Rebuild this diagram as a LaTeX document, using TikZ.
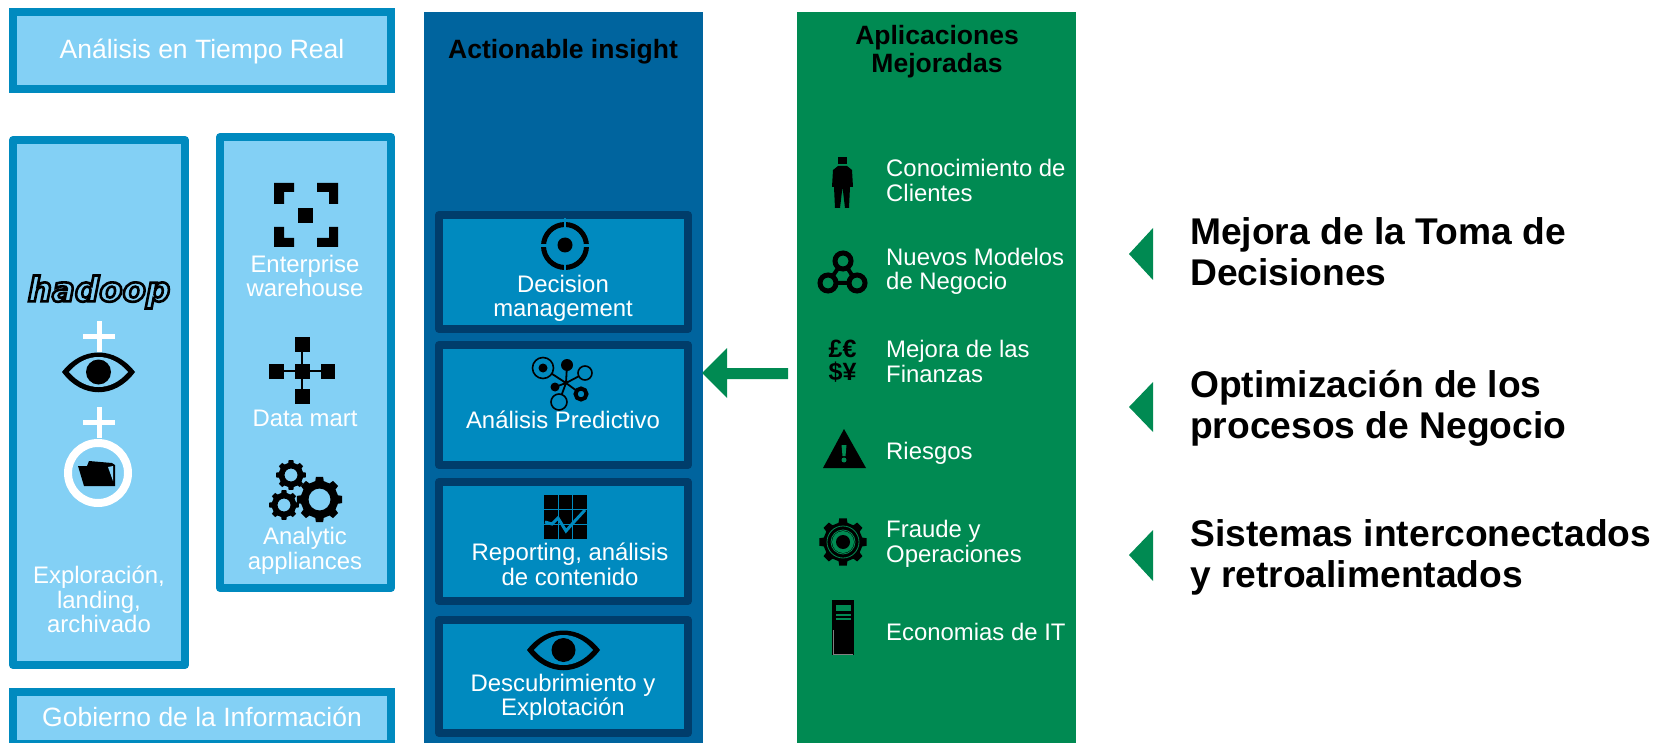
\documentclass[tikz,border=0pt]{standalone}
\usepackage{fontspec}
\setmainfont{Liberation Sans}
\newfontfamily\logofont{DejaVu Sans}
\usetikzlibrary{calc}
\definecolor{lightb}{HTML}{83D0F5}
\definecolor{midb}{HTML}{008ABF}
\definecolor{colb}{HTML}{00649E}
\definecolor{deepb}{HTML}{003D6B}
\definecolor{grn}{HTML}{008A52}
\newcommand{\fs}[2]{\fontsize{#1}{#2}\selectfont}
\tikzset{
 lbox/.style={draw=midb,fill=lightb,line width=8pt,line join=round},
 sbox/.style={draw=midb,fill=lightb,line width=8pt},
 ibox/.style={draw=deepb,fill=midb,line width=8pt,line join=round},
 wt/.style={text=white,align=center,font=\fs{23.9}{24.6},inner sep=0pt},
 wbig/.style={text=white,align=center,font=\fs{26.5}{27},inner sep=0pt},
 wl/.style={text=white,align=left,anchor=west,font=\fs{23.9}{24.4},inner sep=0pt},
 ttl/.style={text=black,align=center,font=\fs{26.5}{28.5}\bfseries,inner sep=0pt},
 big/.style={text=black,align=left,anchor=base west,font=\fs{37.2}{41}\bfseries,inner sep=0pt},
 tri/.style={fill=grn,draw=none},
 ico/.style={fill=black,draw=none},
 plusm/.style={draw=white,line width=5pt},
}
\newcommand{\gear}[4]{% cx,cy,router,rhole
 \fill[black,even odd rule] ([shift={(#1,#2)}]-13:#3*0.82)
  \foreach \a in {0,45,...,315}{
   -- ([shift={(#1,#2)}]\a-13:#3*0.82) -- ([shift={(#1,#2)}]\a-9:#3) -- ([shift={(#1,#2)}]\a+9:#3) -- ([shift={(#1,#2)}]\a+13:#3*0.82)
  } -- cycle (#1,#2) circle (#4);
}
\begin{document}
\begin{tikzpicture}[x=1pt,y=-1pt]
\useasboundingbox (0,0) rectangle (1662,743);
\clip (0,0) rectangle (1662,743);
% left column boxes
\draw[sbox] (13,12) rectangle (391,89);
\node[wbig] (rt) at (202,51) {Análisis en Tiempo Real};
\draw[lbox] (13,140) rectangle (185,665);
\draw[lbox] (220,137) rectangle (391,588);
\draw[sbox] (13,692) rectangle (391,744);
\node[wbig] (gi) at (202,717) {Gobierno de la Información};
% hadoop
\node[inner sep=0pt,text=lightb] (hd) at (99,292) {\special{pdf:code 2 Tr 2.6 w 0 0 0 RG}\logofont\fs{34}{34}\bfseries\itshape hadoop\special{pdf:code 0 Tr}};
% plus signs
\draw[plusm] (83,336) -- (115,336) (99,321) -- (99,352);
\draw[plusm] (83,422) -- (115,422) (99,407) -- (99,438);
% eye
\fill[black] (62,372) .. controls (82,346) and (115,346) .. (135,372) .. controls (115,399) and (82,399) .. cycle;
\fill[lightb] (69,372) .. controls (86,352) and (111,352) .. (128,372) .. controls (111,392) and (86,392) .. cycle;
\fill[black] (98.5,372) circle (12.5);
% folder in ring
\draw[white,line width=8pt] (98,473) circle (30);
\fill[black] (78,466) -- (87,466) -- (89,461) -- (112,463) -- (115,465) -- (115,486) -- (84,486) -- cycle;
\fill[lightb] (108,467) -- (113,466) -- (113,481) -- cycle;
\node[wt] (ex) at (99,599.5) {Exploración,\\landing,\\archivado};
% enterprise icon
\fill[ico] (274,183) -- (294,183) -- (294,192) -- (284,192) -- (284,204) -- (274,204) -- cycle;
\fill[ico] (338,183) -- (317,183) -- (317,192) -- (329,192) -- (329,204) -- (338,204) -- cycle;
\fill[ico] (274,247) -- (294,247) -- (294,238) -- (284,238) -- (284,227) -- (274,227) -- cycle;
\fill[ico] (338,247) -- (317,247) -- (317,238) -- (329,238) -- (329,227) -- (338,227) -- cycle;
\fill[ico] (298,208) rectangle (313,223);
\node[wt] (ew) at (305,276) {Enterprise\\warehouse};
% data mart icon
\draw[black,line width=2pt] (269,371) -- (335,371) (302,337) -- (302,404);
\fill[ico] (294.5,337) rectangle (309.5,352);
\fill[ico] (294.5,363.5) rectangle (309.5,378.5);
\fill[ico] (294.5,389) rectangle (309.5,404);
\fill[ico] (269,363.5) rectangle (284,378.5);
\fill[ico] (321,363.5) rectangle (335,378.5);
\node[wt] (dm) at (305,418) {Data mart};
% gears
\gear{291}{475}{15}{6.5}
\gear{284}{505}{15}{6.5}
\gear{319.5}{499.5}{23}{11}
\node[wt] (aa) at (305,551) {Analytic\\appliances};
% blue column
\fill[colb] (424,12) rectangle (703,743);
\node[ttl] (ai) at (563,52) {Actionable insight};
\draw[ibox] (439,215) rectangle (688,329);
\draw[ibox] (439,345) rectangle (688,465);
\draw[ibox] (439,482) rectangle (688,601);
\draw[ibox] (439,620) rectangle (688,733);
% target
\draw[black,line width=5pt] (565,246) circle (21.5);
\fill[midb] (563.7,218) rectangle (566.3,274);
\fill[midb] (537,244.5) rectangle (593,247.5);
\fill[black] (565,245) circle (7.5);
\node[wt] (de) at (563,298.5) {Decision\\management};
% predictive icon
\draw[black,line width=1.8pt] (566,383) -- (543,368) (566,383) -- (567,365) (566,383) -- (585,373) (566,383) -- (555,387) (566,383) -- (581,394) (566,383) -- (559,402);
\draw[black,line width=1.6pt,fill=midb] (543,368) circle (10.5);
\fill[black] (543,368) circle (4.5);
\fill[black] (567,365) circle (6);
\draw[black,line width=1.6pt,fill=midb] (585,373) circle (7);
\fill[black] (555,387) circle (4.5);
\draw[black,line width=4pt,fill=midb] (581,394) circle (5.5);
\draw[black,line width=1.6pt,fill=midb] (559,402) circle (8);
\node[wt] (ap) at (563,420) {Análisis Predictivo};
% report icon
\fill[ico] (544,495) rectangle (587,539);
\draw[midb,line width=1pt] (558,495) -- (558,539) (572.5,495) -- (572.5,539) (544,509.5) -- (587,509.5) (544,524.5) -- (587,524.5);
\draw[midb,line width=3pt] (545,522) -- (552,524) -- (558,518) -- (566,531) -- (573,523) -- (585,510);
\node[wt] (rc) at (570,564.5) {Reporting, análisis\\de contenido};
% eye 2
\fill[black] (527,650) .. controls (547,624) and (580,624) .. (600,650) .. controls (580,677) and (547,677) .. cycle;
\fill[midb] (534,650) .. controls (551,630) and (576,630) .. (593,650) .. controls (576,670) and (551,670) .. cycle;
\fill[black] (563.5,650) circle (12);
\node[wt] (dx) at (563,697.5) {Descubrimiento y\\Explotación};
% arrow
\fill[grn] (702,373) -- (727,348) -- (727,368) -- (788,368) -- (788,379) -- (727,379) -- (727,398) -- cycle;
% green column
\fill[grn] (797,12) rectangle (1076,743);
\node[ttl] (am) at (937,51.5) {Aplicaciones\\Mejoradas};
% person
\fill[ico] (838,157) rectangle (847,164);
\fill[ico] (838,166) -- (847,166) -- (852,170) -- (853,187) -- (850,187) -- (849,208) -- (845,208) -- (842.5,187) -- (840,208) -- (835,208) -- (834,187) -- (832,187) -- (833,170) -- cycle;
\node[wl] (cc) at (886,180.5) {Conocimiento de\\Clientes};
% trio
\draw[black,line width=4pt] (843,261) -- (828,283) -- (857,283) -- cycle;
\draw[black,line width=5pt,fill=grn] (843,261) circle (8) (828,283) circle (8) (857,283) circle (8);
\node[wl] (nm) at (886,271.5) {Nuevos Modelos\\de Negocio};
% currency
\node[inner sep=0pt,align=center,text=black,font=\fs{25}{23}\bfseries] (cu) at (842.5,361.5) {£€\\\$¥};
\node[wl] (mf) at (886,361.5) {Mejora de las\\Finanzas};
% warning
\fill[ico] (844,429) -- (866,468) -- (823,468) -- cycle;
\fill[grn] (841.5,445) -- (846.5,445) -- (845.5,456) -- (842.5,456) -- cycle;
\fill[grn] (844,460) circle (2.5);
\node[wl] (ri) at (886,453) {Riesgos};
% fraud gear
\gear{843}{542}{24}{0.01}
\draw[grn,line width=0.8pt] (843,542) circle (16) (843,542) circle (12);
\fill[grn] (843,542) circle (11);
\fill[black] (843,542) circle (7);
\node[wl] (fo) at (886,544) {Fraude y\\Operaciones};
% server
\fill[ico] (832,600) rectangle (854,655);
\fill[grn] (836,605) rectangle (851,611);
\fill[grn] (836,614) rectangle (851,615.5);
\fill[grn] (836,618) rectangle (851,619.5);
\draw[gray,line width=1pt] (833,630) -- (833,654.5) -- (853,654.5);
\node[wl] (ec) at (886,632) {Economias de IT};
% triangles + statements
\fill[tri] (1129,254) -- (1153,228) -- (1153,280) -- cycle;
\node[big] (s1) at (1190,286) {Mejora de la Toma de\\Decisiones};
\fill[tri] (1129,407) -- (1153,382) -- (1153,432) -- cycle;
\node[big] (s2) at (1190,438) {Optimización de los\\procesos de Negocio};
\fill[tri] (1129,555) -- (1153,530) -- (1153,581) -- cycle;
\node[big] (s3) at (1190,587) {Sistemas interconectados\\y retroalimentados};
\end{tikzpicture}
\end{document}
